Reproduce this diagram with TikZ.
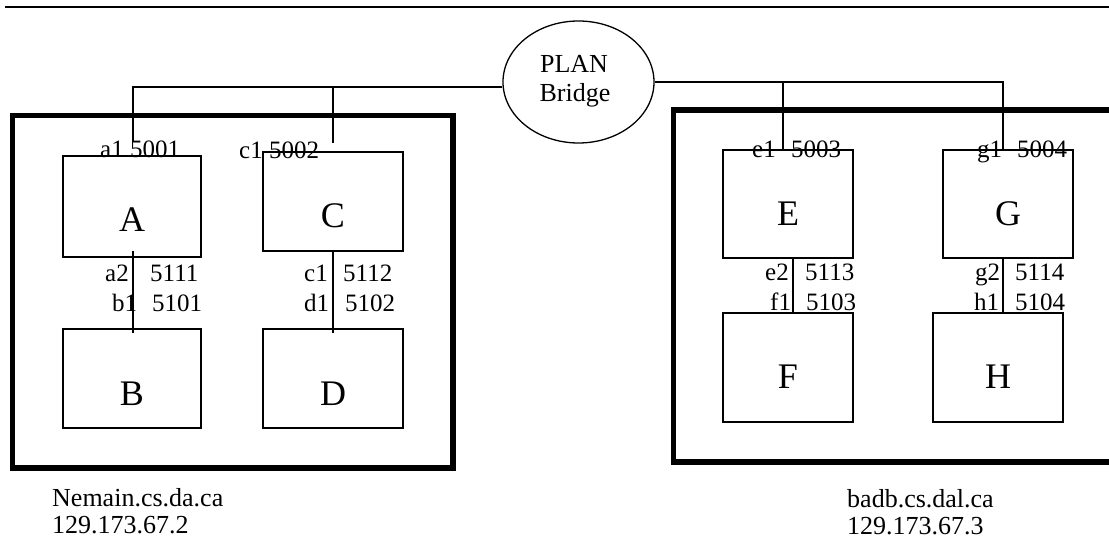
\documentclass[tikz,border=0pt]{standalone}
\usepackage{fontspec}
\setmainfont{Liberation Serif}
\usetikzlibrary{shapes.geometric}
\begin{document}
\begin{tikzpicture}[x=1pt,y=-1pt,
  lbl/.style={inner sep=0pt, anchor=base west, font=\fontsize{25}{30}\selectfont},
  big/.style={inner sep=0pt, anchor=base, font=\fontsize{36}{40}\selectfont},
  capt/.style={inner sep=0pt, anchor=base west, font=\fontsize{26}{30}\selectfont},
  btext/.style={inner sep=0pt, anchor=base, font=\fontsize{26}{30}\selectfont},
  hostbox/.style={draw, line width=1.3pt, inner sep=0pt, outer sep=0pt, anchor=north west},
  outerbox/.style={draw, line width=5.5pt, inner sep=0pt, outer sep=0pt, anchor=north west},
  wire/.style={line width=1.3pt}]
\useasboundingbox (0,0) rectangle (1109,540);
\clip (0,0) rectangle (1109,540);

% top rule
\coordinate (ruleL) at (5,7);
\coordinate (ruleR) at (1109,7);
\draw[line width=2pt] (ruleL) -- (ruleR);

% outer host boxes
\node[outerbox, minimum width=440.5pt, minimum height=352.5pt] (hostL) at (12.5,115.5) {};
\node[outerbox, minimum width=450pt, minimum height=352pt] (hostR) at (673.5,110) {};

% bridge
\node[draw, ellipse, line width=1.3pt, inner sep=0pt, minimum width=151pt, minimum height=122pt] (bridge) at (578.5,82) {};
\node[btext] (plan) at (574,73) {PLAN};
\node[btext] (bridgetxt) at (575,102) {Bridge};

% process boxes
\node[hostbox, minimum width=138pt, minimum height=101pt] (A) at (63,156) {};
\node[hostbox, minimum width=140pt, minimum height=99pt] (C) at (263,152) {};
\node[hostbox, minimum width=138pt, minimum height=99pt] (B) at (63,329) {};
\node[hostbox, minimum width=140pt, minimum height=99pt] (D) at (263,329) {};
\node[hostbox, minimum width=130pt, minimum height=108pt] (E) at (723,150) {};
\node[hostbox, minimum width=130pt, minimum height=108pt] (G) at (943,150) {};
\node[hostbox, minimum width=130pt, minimum height=109pt] (F) at (723,313) {};
\node[hostbox, minimum width=130pt, minimum height=109pt] (H) at (933,313) {};

% box letters
\node[big] (Atxt) at (132,232) {A};
\node[big] (Ctxt) at (333,228) {C};
\node[big] (Btxt) at (132,405) {B};
\node[big] (Dtxt) at (333,405) {D};
\node[big] (Etxt) at (788,226) {E};
\node[big] (Gtxt) at (1008,226) {G};
\node[big] (Ftxt) at (788,388) {F};
\node[big] (Htxt) at (998,388) {H};

% left bus
\coordinate (busLend) at (133,87);
\coordinate (busLmid) at (333,87);
\coordinate (a1p) at (133,142);
\coordinate (c1p) at (333,143);
\draw[wire] (bridge.west |- 0,87) -- (busLend) -- (a1p);
\draw[wire] (busLmid) -- (c1p);

% right bus
\coordinate (busRmid) at (783,82);
\coordinate (busRend) at (1003,82);
\draw[wire] (bridge.east |- 0,82) -- (busRend) -- (busRend |- G.north);
\draw[wire] (busRmid) -- (busRmid |- E.north);

% internal links
\draw[wire] (133,251) -- (133,333);
\draw[wire] (C.south) -- ([yshift=-4pt]D.north);
\draw[wire] (793,258) -- (793,313);
\draw[wire] (1003,258) -- (1003,313);

% port labels
\node[lbl] (la1) at (100,158) {a1 5001};
\node[lbl] (lc1) at (239,159) {c1 5002};
\node[lbl] (la2) at (105,282) {a2};
\node[lbl] (la2p) at (150,282) {5111};
\node[lbl] (lb1) at (112,312) {b1};
\node[lbl] (lb1p) at (152,312) {5101};
\node[lbl] (lc2) at (304,282) {c1};
\node[lbl] (lc2p) at (343,282) {5112};
\node[lbl] (ld1) at (304,312) {d1};
\node[lbl] (ld1p) at (345,312) {5102};

\node[lbl] (le1) at (752,158) {e1};
\node[lbl] (le1p) at (791,158) {5003};
\node[lbl] (lg1) at (977,158) {g1};
\node[lbl] (lg1p) at (1017,158) {5004};
\node[lbl] (le2) at (765,281) {e2};
\node[lbl] (le2p) at (805,281) {5113};
\node[lbl] (lf1) at (770,311) {f1};
\node[lbl] (lf1p) at (806,311) {5103};
\node[lbl] (lg2) at (975,281) {g2};
\node[lbl] (lg2p) at (1015,281) {5114};
\node[lbl] (lh1) at (974,311) {h1};
\node[lbl] (lh1p) at (1015,311) {5104};

% captions
\node[capt] (nameL) at (52,506) {Nemain.cs.da.ca};
\node[capt] (ipL) at (52,533) {129.173.67.2};
\node[capt] (nameR) at (847,507) {badb.cs.dal.ca};
\node[capt] (ipR) at (847,534) {129.173.67.3};
\end{tikzpicture}
\end{document}
